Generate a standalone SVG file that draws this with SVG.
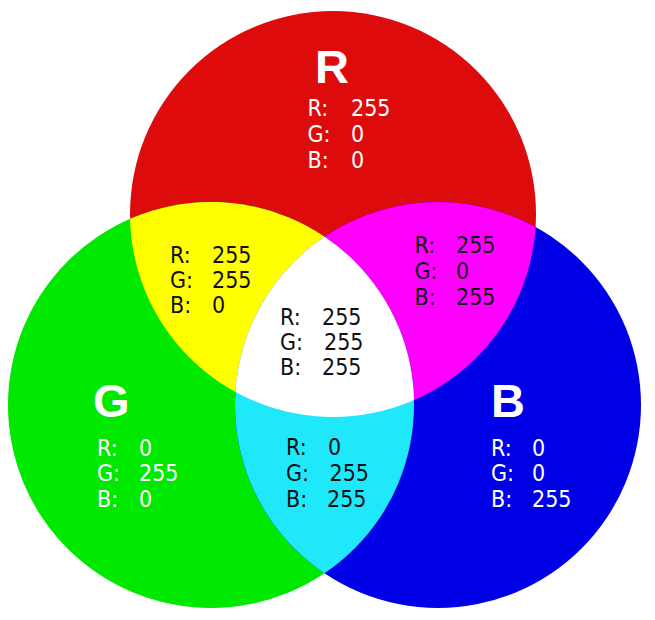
<svg xmlns="http://www.w3.org/2000/svg" width="655" height="620" viewBox="0 0 655 620">
<style>
.big{font-family:"Liberation Sans",Arial,sans-serif;font-weight:bold;font-size:47px;fill:#fff}
.v{font-family:"DejaVu Sans Condensed","Liberation Sans",Arial,sans-serif;font-size:23px}
.w{fill:#fff}
.k{fill:#111}
</style>
<defs>
<clipPath id="cR"><circle cx="333" cy="214" r="203"/></clipPath>
<clipPath id="cG"><circle cx="211" cy="405" r="203"/></clipPath>
<clipPath id="cB"><circle cx="438" cy="405" r="203"/></clipPath>
</defs>
<rect width="655" height="620" fill="#fff"/>
<g id="red">
<circle cx="333" cy="214" r="203" fill="#dd0b0b"/>
</g>
<g id="green">
<circle cx="211" cy="405" r="203" fill="#00e800"/>
</g>
<g id="blue">
<circle cx="438" cy="405" r="203" fill="#0000e6"/>
</g>
<g id="yellow">
<g clip-path="url(#cR)"><circle cx="211" cy="405" r="203" fill="#ffff00"/></g>
</g>
<g id="magenta">
<g clip-path="url(#cR)"><circle cx="438" cy="405" r="203" fill="#ff00ff"/></g>
</g>
<g id="cyan">
<g clip-path="url(#cG)"><circle cx="438" cy="405" r="203" fill="#1ee8fa"/></g>
</g>
<g id="white">
<g clip-path="url(#cR)"><g clip-path="url(#cG)"><circle cx="438" cy="405" r="203" fill="#ffffff"/></g></g>
</g>
<g id="labels">
<g id="red-text">
<text class="big" x="315" y="83">R</text>
<text class="v w" x="307.5" y="116">R:</text><text class="v w" x="351" y="116">255</text>
<text class="v w" x="307.5" y="142">G:</text><text class="v w" x="351" y="142">0</text>
<text class="v w" x="307.5" y="168">B:</text><text class="v w" x="351" y="168">0</text>
</g>
<g id="yellow-text">
<text class="v k" x="170" y="263">R:</text><text class="v k" x="212" y="263">255</text>
<text class="v k" x="170" y="288">G:</text><text class="v k" x="212" y="288">255</text>
<text class="v k" x="170" y="313">B:</text><text class="v k" x="212" y="313">0</text>
</g>
<g id="magenta-text">
<text class="v k" x="414.5" y="253">R:</text><text class="v k" x="456" y="253">255</text>
<text class="v k" x="414.5" y="279">G:</text><text class="v k" x="456" y="279">0</text>
<text class="v k" x="414.5" y="305">B:</text><text class="v k" x="456" y="305">255</text>
</g>
<g id="white-text">
<text class="v k" x="280" y="325">R:</text><text class="v k" x="322" y="325">255</text>
<text class="v k" x="280" y="350">G:</text><text class="v k" x="324" y="350">255</text>
<text class="v k" x="280" y="375">B:</text><text class="v k" x="322" y="375">255</text>
</g>
<g id="green-text">
<text class="big" x="93" y="417">G</text>
<text class="v w" x="97" y="456">R:</text><text class="v w" x="139" y="456">0</text>
<text class="v w" x="97" y="481">G:</text><text class="v w" x="139" y="481">255</text>
<text class="v w" x="97" y="507">B:</text><text class="v w" x="139" y="507">0</text>
</g>
<g id="cyan-text">
<text class="v k" x="286" y="455">R:</text><text class="v k" x="328" y="455">0</text>
<text class="v k" x="286" y="481">G:</text><text class="v k" x="329.5" y="481">255</text>
<text class="v k" x="286" y="507">B:</text><text class="v k" x="327" y="507">255</text>
</g>
<g id="blue-text">
<text class="big" x="491" y="417">B</text>
<text class="v w" x="491" y="456">R:</text><text class="v w" x="532" y="456">0</text>
<text class="v w" x="491" y="481">G:</text><text class="v w" x="532" y="481">0</text>
<text class="v w" x="491" y="507">B:</text><text class="v w" x="532" y="507">255</text>
</g>
</g>
<g id="connectors"/>
</svg>
